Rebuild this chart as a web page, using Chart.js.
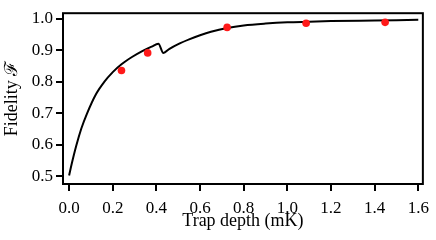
<!DOCTYPE html>
<html>
<head>
<meta charset="utf-8">
<script src="https://cdn.jsdelivr.net/npm/chart.js@4/dist/chart.umd.min.js"></script>
<style>
html,body{margin:0;padding:0;background:#fff;}
#c{display:block;}
</style>
</head>
<body>
<canvas id="c" width="436" height="240"></canvas>
<script>
const curveX = [0.0, 0.012, 0.033, 0.056, 0.081, 0.123, 0.161, 0.2, 0.24, 0.288, 0.333, 0.378, 0.409, 0.432, 0.46, 0.5, 0.55, 0.6, 0.65, 0.724, 0.8, 0.9, 1.0, 1.1, 1.2, 1.4, 1.6];
const curveY = [0.503, 0.540, 0.598, 0.652, 0.698, 0.761, 0.800, 0.831, 0.856, 0.879, 0.897, 0.912, 0.921, 0.892, 0.905, 0.920, 0.935, 0.948, 0.959, 0.971, 0.979, 0.985, 0.989, 0.991, 0.993, 0.995, 0.997];
const measX = [0.24, 0.36, 0.724, 1.086, 1.448];
const measY = [0.836, 0.892, 0.973, 0.986, 0.989];
const xTicks = [0, 0.2, 0.4, 0.6, 0.8, 1.0, 1.2, 1.4, 1.6];
const yTicks = [0.5, 0.6, 0.7, 0.8, 0.9, 1.0];
const xTitle = 'Trap depth (mK)';
const yTitle = 'Fidelity \u2131';

const FONT = '"Liberation Serif", "Times New Roman", "DejaVu Serif", serif';

const framePlugin = {
  id: 'frame',
  afterDraw(chart) {
    const a = chart.chartArea, ctx = chart.ctx;
    ctx.save();
    ctx.strokeStyle = '#000';
    ctx.lineWidth = 2;
    ctx.strokeRect(a.left, a.top, a.right - a.left, a.bottom - a.top);
    ctx.restore();
  }
};

new Chart(document.getElementById('c'), {
  type: 'scatter',
  data: {
    datasets: [
      {
        data: measX.map((x, i) => ({x, y: measY[i]})),
        backgroundColor: 'rgb(255,25,25)',
        borderWidth: 0,
        pointRadius: 3.8,
        order: 0
      },
      {
        data: curveX.map((x, i) => ({x, y: curveY[i]})),
        showLine: true,
        borderColor: '#000',
        borderWidth: 2,
        pointRadius: 0,
        cubicInterpolationMode: 'monotone',
        fill: false,
        order: 1
      }
    ]
  },
  options: {
    responsive: false,
    animation: false,
    layout: {padding: {top: 5, right: 7, left: 0, bottom: 0}},
    plugins: {legend: {display: false}, tooltip: {enabled: false}},
    scales: {
      x: {
        type: 'linear',
        min: -0.028, max: 1.621,
        afterFit(s) { s.height = 56; },
        afterBuildTicks(s) { s.ticks = xTicks.map(v => ({value: v})); },
        border: {display: false},
        grid: {drawOnChartArea: false, drawTicks: true, tickLength: 7, color: '#000', lineWidth: 2},
        ticks: {color: '#000', font: {family: FONT, size: 17}, padding: 7, maxRotation: 0, autoSkip: false,
                callback: v => Number(v).toFixed(1)},
        title: {display: true, text: xTitle, color: '#000', font: {family: FONT, size: 18}, padding: {top: 0, bottom: 8}}
      },
      y: {
        type: 'linear',
        min: 0.476, max: 1.018,
        afterFit(s) { s.width = 63; },
        afterBuildTicks(s) { s.ticks = yTicks.map(v => ({value: v})); },
        border: {display: false},
        grid: {drawOnChartArea: false, drawTicks: true, tickLength: 7, color: '#000', lineWidth: 2},
        ticks: {color: '#000', font: {family: FONT, size: 17}, padding: 3, autoSkip: false,
                callback: v => Number(v).toFixed(1)},
        title: {display: true, text: yTitle, color: '#000', font: {family: FONT, size: 18}, padding: {top: 1, bottom: 0}}
      }
    }
  },
  plugins: [framePlugin]
});
</script>
</body>
</html>
